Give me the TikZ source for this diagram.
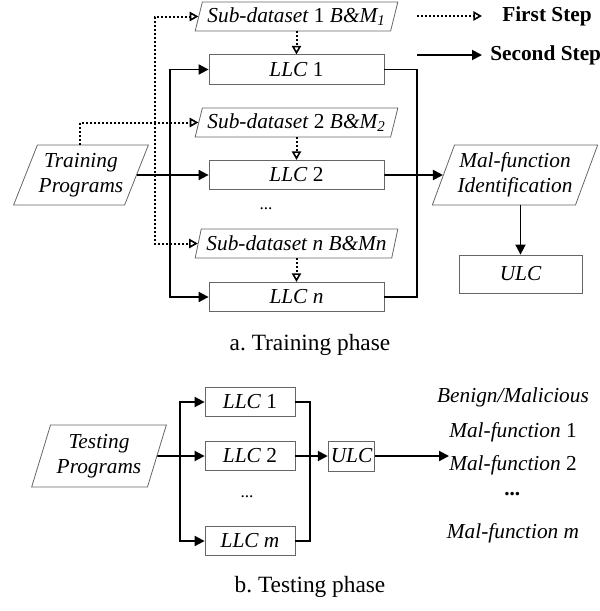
\documentclass[tikz,border=0pt]{standalone}
\usepackage{fontspec}
\setmainfont{Liberation Serif}
\usetikzlibrary{arrows.meta,shapes.geometric}

\tikzset{
	box/.style={draw=black!60, line width=0.6pt, rectangle, inner sep=1pt, font=\fontsize{16}{19}\selectfont\itshape},
	slant/.style={draw=black!60, line width=0.6pt, trapezium, trapezium left angle=#1, trapezium right angle=180-#1, trapezium stretches body, inner sep=1pt, align=center, font=\fontsize{16}{19}\selectfont\itshape},
	first/.style={line width=1.5pt, dash pattern=on 1.5pt off 1.5pt, -{Triangle[open, length=6.5pt, width=7pt, line width=1.2pt]}},
	second/.style={line width=1.4pt, -{Triangle[length=7.5pt, width=7.5pt]}},
	link/.style={line width=1.4pt},
	legend/.style={font=\fontsize{16}{19}\selectfont\bfseries, anchor=west, inner sep=0pt},
	caption/.style={font=\fontsize{17.5}{20}\selectfont},
	outtext/.style={font=\fontsize{16}{19}\selectfont\itshape, inner sep=0pt}
}

\begin{document}
\begin{tikzpicture}[x=0.75pt, y=-0.75pt]
			%%%%% START %%%%%
			\useasboundingbox (0, 0) rectangle (600, 611);
			
			% a. training phase
			\node[slant=63, minimum width=101pt, minimum height=45pt] (train) at (81, 175) {Training\\Programs};
			
			\node[slant=71, minimum width=152pt, minimum height=21.75pt] (sub1) at (296.5, 16.5) {Sub-dataset \textup{1} B\&M\textsubscript{1}};
			\node[box, minimum width=131.25pt, minimum height=22pt] (llc1) at (296.5, 69.5) {LLC \textup{1}};
			\node[slant=71, minimum width=152pt, minimum height=21.75pt] (sub2) at (296.5, 122.5) {Sub-dataset \textup{2} B\&M\textsubscript{2}};
			\node[box, minimum width=131.25pt, minimum height=22pt] (llc2) at (296.5, 175) {LLC \textup{2}};
			\node[font=\fontsize{13}{15}\selectfont] (dots1) at (266, 209) {...};
			\node[slant=71, minimum width=152pt, minimum height=21.75pt] (subn) at (296.5, 243.5) {Sub-dataset n B\&Mn};
			\node[box, minimum width=131.25pt, minimum height=22pt] (llcn) at (296.5, 297) {LLC n};
			
			\node[slant=65, minimum width=124pt, minimum height=45pt] (mal) at (515, 175) {Mal-function\\Identification};
			\node[box, minimum width=92.25pt, minimum height=28.5pt] (ulc) at (520.5, 274) {ULC};
			
			\coordinate (dj) at (155, 122.5);
			\coordinate (sj) at (170, 175);
			\coordinate (rj) at (417, 175);
			
			\draw[first] (train.north -| 80, 0) |- (sub2.west);
			\draw[first] (dj) |- (sub1.west);
			\draw[first] (dj) |- (subn.west);
			\draw[first] (sub1.south -| llc1.north) -- (llc1.north);
			\draw[first] (sub2.south -| llc2.north) -- (llc2.north);
			\draw[first] (subn.south -| llcn.north) -- (llcn.north);
			
			\draw[second] (train.east) -- (llc2.west);
			\draw[second] (sj) |- (llc1.west);
			\draw[second] (sj) |- (llcn.west);
			\draw[link] (llc1.east) -| (rj) |- (llcn.east);
			\draw[second] (llc2.east) -- (mal.west);
			\draw[second] (ulc.north |- mal.south) -- (ulc.north);
			
			% legend
			\coordinate (lg1a) at (417, 16);
			\coordinate (lg1b) at (482, 16);
			\coordinate (lg2a) at (417, 55);
			\coordinate (lg2b) at (482, 55);
			\node[legend] (step1) at (502, 16) {First Step};
			\node[legend] (step2) at (490, 55) {Second Step};
			\draw[first] (lg1a) -- (lg1b);
			\draw[second] (lg2a) -- (lg2b);
			
			\node[caption] (capa) at (310, 345) {a.\ Training phase};
			
			% b. testing phase
			\node[slant=68, minimum width=101pt, minimum height=46.5pt] (test) at (99, 456) {Testing\\Programs};
			
			\node[box, minimum width=67.5pt, minimum height=22pt] (tllc1) at (250, 402) {LLC \textup{1}};
			\node[box, minimum width=67.5pt, minimum height=22pt] (tllc2) at (250, 456) {LLC \textup{2}};
			\node[font=\fontsize{13}{15}\selectfont] (dots2) at (247, 497) {...};
			\node[box, minimum width=67.5pt, minimum height=22pt] (tllcm) at (250, 541) {LLC m};
			\node[box, minimum width=35pt, minimum height=22.5pt] (tulc) at (351.5, 456) {ULC};
			
			\node[outtext] (out0) at (513, 397) {Benign/Malicious};
			\node[outtext] (out1) at (513, 432) {Mal-function \textup{1}};
			\node[outtext] (out2) at (513, 465) {Mal-function \textup{2}};
			\node[font=\fontsize{16}{19}\selectfont\bfseries\itshape] (dots3) at (513, 494) {...};
			\node[outtext] (outm) at (513, 533) {Mal-function m};
			
			\coordinate (tj) at (180, 456);
			\coordinate (tr) at (310, 456);
			
			\draw[second] (test.east) -- (tllc2.west);
			\draw[second] (tj) |- (tllc1.west);
			\draw[second] (tj) |- (tllcm.west);
			\draw[link] (tllc1.east) -| (tr) |- (tllcm.east);
			\draw[second] (tllc2.east) -- (tulc.west);
			\draw[second] (tulc.east) -- (tulc.east -| out2.west);
			
			\node[caption] (capb) at (310, 587) {b.\ Testing phase};
			
			%%%%% END %%%%%
\end{tikzpicture}
\end{document}
